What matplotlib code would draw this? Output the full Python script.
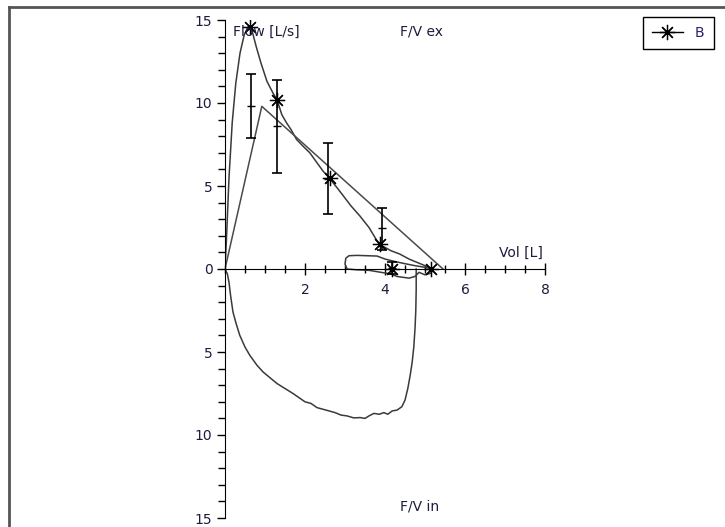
import matplotlib.pyplot as plt
from matplotlib.ticker import MultipleLocator, FuncFormatter
from matplotlib.lines import Line2D

# measured flow-volume loop (expiration then inspiration, inspiration drawn downward)
ex_vol = [0.0, 0.04, 0.1, 0.18, 0.27, 0.375, 0.48, 0.58, 0.66, 0.78, 0.9, 1.05, 1.2, 1.3,
          1.42, 1.54, 1.65, 1.79, 1.95, 2.12, 2.3, 2.45, 2.6, 2.8, 2.96, 3.15, 3.37, 3.6,
          3.85, 4.0, 4.15, 4.37, 4.6, 4.8, 5.0, 5.12, 5.2]
ex_flow = [0.0, 2.0, 5.5, 8.8, 11.2, 13.0, 14.1, 14.6, 14.5, 13.4, 12.4, 11.3, 10.6, 10.2,
           9.3, 8.8, 8.4, 7.8, 7.4, 7.0, 6.4, 5.9, 5.5, 4.9, 4.4, 3.8, 3.2, 2.5,
           1.5, 1.3, 1.1, 0.9, 0.6, 0.4, 0.2, 0.08, 0.0]

loop_vol = [5.2, 5.15, 5.0, 4.85, 4.75, 4.6, 4.45, 4.3, 4.15, 3.9, 3.6, 3.3, 3.05, 3.0,
            3.02, 3.1, 3.3, 3.55, 3.8, 4.0, 4.25, 4.5, 4.75, 5.0, 5.17]
loop_flow = [0.0, -0.25, -0.35, -0.2, -0.45, -0.55, -0.5, -0.45, -0.3, -0.2, -0.08, -0.05, 0.0, 0.3,
             0.65, 0.8, 0.82, 0.8, 0.78, 0.6, 0.45, 0.32, 0.2, 0.1, 0.02]

in_vol = [4.78, 4.78, 4.77, 4.75, 4.72, 4.68, 4.63, 4.57, 4.5, 4.42, 4.3, 4.18, 4.07, 3.97,
          3.86, 3.72, 3.6, 3.5, 3.38, 3.22, 3.05, 2.9, 2.75, 2.6, 2.45, 2.3, 2.15, 2.0,
          1.85, 1.7, 1.5, 1.3, 1.1, 0.95, 0.8, 0.62, 0.5, 0.37, 0.28, 0.2, 0.14, 0.1, 0.06, 0.0]
in_flow = [0.0, -1.2, -2.5, -3.6, -4.7, -5.6, -6.4, -7.2, -7.9, -8.3, -8.5, -8.55, -8.75, -8.65,
           -8.75, -8.7, -8.85, -9.0, -8.95, -8.97, -8.85, -8.8, -8.65, -8.55, -8.45, -8.35, -8.1, -8.0,
           -7.75, -7.5, -7.2, -6.9, -6.5, -6.2, -5.8, -5.2, -4.7, -4.0, -3.3, -2.6, -1.6, -0.8, -0.3, 0.0]

# second (reference) curve
ref_vol = [0.0, 0.92, 5.45]
ref_flow = [0.0, 9.8, 0.0]

# series B markers
b_vol = [0.63, 1.29, 2.62, 3.87, 4.18, 5.15]
b_flow = [14.6, 10.2, 5.5, 1.5, 0.0, 0.0]

# predicted values with ranges
pred_vol = [0.64, 1.3, 2.58, 3.92, 4.17]
pred_flow = [9.84, 8.6, 5.45, 2.44, 0.05]
pred_lo = [1.94, 2.8, 2.15, 1.28, 0.35]
pred_hi = [1.92, 2.8, 2.15, 1.26, 0.35]

txt = "#1c1c3c"

fig = plt.figure(figsize=(7.25, 5.27), dpi=100)
ax = fig.add_axes([225 / 725, 9 / 527, 320 / 725, 498 / 527])

ax.plot(ex_vol, ex_flow, color="#3a3a3a", lw=1.1)
ax.plot(loop_vol, loop_flow, color="#3a3a3a", lw=1.1)
ax.plot(in_vol, in_flow, color="#3a3a3a", lw=1.1)
ax.plot(ref_vol, ref_flow, color="#4a4a4a", lw=1.1)
ax.errorbar(pred_vol, pred_flow, yerr=[pred_lo, pred_hi], fmt="_", ms=6, color="black",
            ecolor="black", elinewidth=1.2, capsize=3.5, capthick=1.2)
ax.plot(b_vol, b_flow, ls="none", marker=(8, 2, 0), ms=11, mew=0.9, color="black")

ax.set_xlim(0, 8)
ax.set_ylim(-15, 15)
ax.spines["right"].set_visible(False)
ax.spines["top"].set_visible(False)
ax.spines["bottom"].set_position(("data", 0))
ax.spines["left"].set_position(("data", 0))
ax.patch.set_alpha(0)

ax.set_xticks([2, 4, 6, 8])
ax.xaxis.set_minor_locator(MultipleLocator(0.5))
ax.yaxis.set_major_locator(MultipleLocator(5))
ax.yaxis.set_minor_locator(MultipleLocator(1))
ax.yaxis.set_major_formatter(FuncFormatter(lambda v, p: "%d" % abs(round(v))))
ax.tick_params(axis="x", which="major", direction="inout", length=8, width=1, pad=6,
               labelsize=10, labelcolor=txt)
ax.tick_params(axis="x", which="minor", direction="inout", length=6, width=1)
ax.tick_params(axis="y", which="major", direction="out", length=6, width=1, pad=3,
               labelsize=10, labelcolor=txt)
ax.tick_params(axis="y", which="minor", direction="out", length=5, width=1)

ax.text(0.2, 14.3, "Flow [L/s]", fontsize=10, color=txt, va="center", ha="left")
ax.text(4.38, 14.3, "F/V ex", fontsize=10, color=txt, va="center", ha="left")
ax.text(7.95, 0.95, "Vol [L]", fontsize=10, color=txt, va="center", ha="right")
ax.text(4.38, -14.3, "F/V in", fontsize=10, color=txt, va="center", ha="left")

# legend box
handle = Line2D([], [], color="black", lw=1, marker=(8, 2, 0), ms=11, mew=0.9)
leg = fig.legend([handle], ["B"], loc="upper left", bbox_to_anchor=(643 / 725, 1 - 17 / 527),
                 fancybox=False, framealpha=1, edgecolor="black", fontsize=10,
                 handlelength=2.2, handletextpad=0.9, borderpad=0.65, borderaxespad=0)
leg.get_frame().set_linewidth(1.0)
for t in leg.get_texts():
    t.set_color("#2a2070")

# outer frame of the panel
fig.add_artist(Line2D([9 / 725, 1], [1 - 7 / 527, 1 - 7 / 527], color="#555555", lw=2))
fig.add_artist(Line2D([9 / 725, 9 / 725], [0, 1 - 7 / 527], color="#555555", lw=2))

plt.savefig("out.png", dpi=100)
